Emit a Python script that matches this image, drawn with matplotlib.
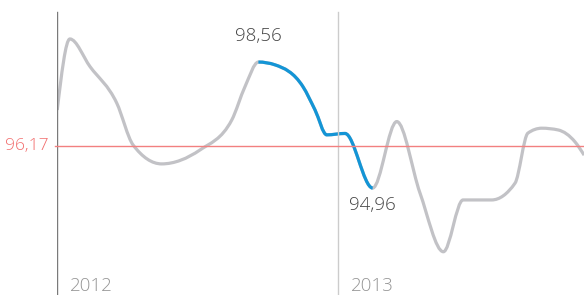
import numpy as np
import matplotlib
matplotlib.use("Agg")
import matplotlib.pyplot as plt
from matplotlib.path import Path
from matplotlib.patches import PathPatch

plt.rcParams['font.family'] = ['Open Sans', 'DejaVu Sans']

# months since Jan 2012
months = [0.01, 0.55, 1.41, 2.55, 3.25, 4.47, 6.11, 7.46, 8.03, 8.60, 9.31,
          10.50, 11.02, 11.52, 12.30, 13.48, 14.51, 15.50, 16.50, 17.34,
          18.56, 19.56, 20.11, 20.70, 21.40, 22.12, 22.51]
values = [97.19, 99.22, 98.43, 97.39, 96.19, 95.65, 96.05, 96.90, 97.86, 98.56,
          98.48, 97.86, 97.19, 96.48, 96.52, 94.96, 96.86, 94.82, 93.14, 94.62,
          94.62, 95.10, 96.53, 96.67, 96.62, 96.28, 95.90]
average = 96.17
year_labels = ["2012", "2013"]
year_pos = [0, 12]
hi_start, hi_end = 9, 15   # highlighted segment: max 98,56 -> min 94,96


def monotone_path(x, y):
    x = np.asarray(x, float); y = np.asarray(y, float)
    n = len(x)
    h = np.diff(x); s = np.diff(y) / h
    t = np.zeros(n)
    for i in range(1, n - 1):
        s0, s1, h0, h1 = s[i - 1], s[i], h[i - 1], h[i]
        p = (s0 * h1 + s1 * h0) / (h0 + h1)
        t[i] = (np.sign(s0) + np.sign(s1)) * min(abs(s0), abs(s1), 0.5 * abs(p))
    t[0] = (3 * s[0] - t[1]) / 2
    t[-1] = (3 * s[-1] - t[-2]) / 2
    verts = [(x[0], y[0])]
    codes = [Path.MOVETO]
    for i in range(n - 1):
        dx = h[i] / 3
        verts += [(x[i] + dx, y[i] + dx * t[i]),
                  (x[i + 1] - dx, y[i + 1] - dx * t[i + 1]),
                  (x[i + 1], y[i + 1])]
        codes += [Path.CURVE4] * 3
    return Path(verts, codes), verts, codes


fig = plt.figure(figsize=(5.84, 2.95), dpi=100)
ax = fig.add_axes([57 / 584, 0, 1 - 57 / 584, 1])
ax.set_xlim(0, (584 - 57) / 23.417)
ax.set_ylim(average - (295 - 145.7) / 35, average + 145.7 / 35)
ax.axis('off')

# axis lines
ax.axvline(year_pos[0], ymin=0, ymax=(295 - 12) / 295, color='#7a7a7a', lw=1.0)
ax.axvline(year_pos[1], ymin=0, ymax=(295 - 12) / 295, color='#cccccc', lw=1.0)

# average line
ax.axhline(average, color='#f28080', lw=1.0, xmin=-0.004, clip_on=False)

path, verts, codes = monotone_path(months, values)
ax.add_patch(PathPatch(path, facecolor='none', edgecolor='#c2c2c6', lw=2.3,
                       capstyle='butt', joinstyle='round'))
# highlighted segment
sv = verts[hi_start * 3: hi_end * 3 + 1]
sc = [Path.MOVETO] + [Path.CURVE4] * (len(sv) - 1)
ax.add_patch(PathPatch(Path(sv, sc), facecolor='none', edgecolor='#1395d6', lw=2.3,
                       capstyle='butt', joinstyle='round'))

fmt = lambda v: f"{v:.2f}".replace('.', ',')
ax.annotate(fmt(values[hi_start]), (months[hi_start], values[hi_start]),
            xytext=(0, 12), textcoords='offset points', ha='center', va='bottom',
            fontsize=13.5, color='#444444', fontweight='light')
ax.annotate(fmt(values[hi_end]), (months[hi_end], values[hi_end]),
            xytext=(0, -6), textcoords='offset points', ha='center', va='top',
            fontsize=13.5, color='#444444', fontweight='light')
ax.annotate(fmt(average), (0, average), xytext=(-6, 0), textcoords='offset points',
            ha='right', va='center', fontsize=12.5, color='#f26d6d',
            fontweight='light', annotation_clip=False)

for lab, pos in zip(year_labels, year_pos):
    ax.annotate(lab, (pos, ax.get_ylim()[0]), xytext=(9, 0), textcoords='offset points',
                ha='left', va='bottom', fontsize=13.5, color='#959595',
                fontweight='light')

fig.savefig('out.png', dpi=100)
